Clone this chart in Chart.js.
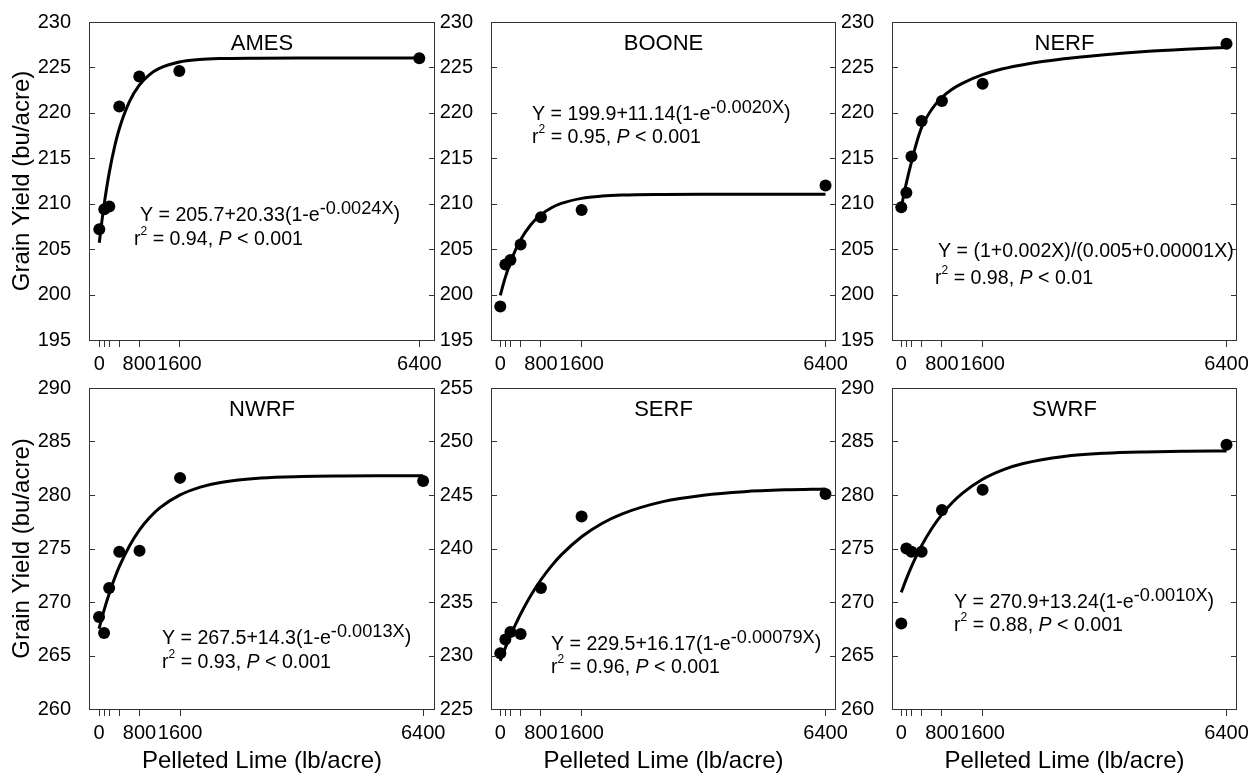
<!DOCTYPE html>
<html>
<head>
<meta charset="utf-8">
<script src="https://cdn.jsdelivr.net/npm/chart.js@4.4.1/dist/chart.umd.min.js"></script>
<style>
  body { margin: 0; background: #fff; }
  #wrap { position: relative; width: 1260px; height: 776px; overflow: hidden; background: #fff; }
  #wrap canvas { position: absolute; }
</style>
</head>
<body>
<div id="wrap"></div>
<script>
// Pelleted lime rates (lb/acre)
const doses = [0, 100, 200, 400, 800, 1600, 6400];

// Measured grain yield (bu/acre) per site
const amesYield = [207.2, 209.4, 209.7, 220.7, 224.0, 224.6, 226.0];
const booneYield = [198.7, 203.3, 203.8, 205.5, 208.5, 209.3, 212.0];
const nerfYield = [209.6, 211.2, 215.2, 219.1, 221.3, 223.2, 227.6];
const nwrfYield = [268.6, 267.1, 271.3, 274.7, 274.8, 281.6, 281.3];
const serfYield = [230.2, 231.5, 232.2, 232.0, 236.3, 243.0, 245.1];
const swrfYield = [268.0, 275.0, 274.7, 274.7, 278.6, 280.5, 284.7];

// Fitted response curves, read at these rates
const fitX = [0, 50, 100, 200, 300, 400, 600, 800, 1000, 1200, 1600, 2000, 2400, 3200, 4000, 4800, 5600, 6400];
const amesFit = [205.70, 208.00, 210.04, 213.45, 216.13, 218.25, 221.21, 223.05, 224.19, 224.89, 225.59, 225.86, 225.97, 226.02, 226.03, 226.03, 226.03, 226.03];
const booneFit = [199.90, 200.96, 201.92, 203.57, 204.93, 206.03, 207.68, 208.79, 209.53, 210.03, 210.59, 210.84, 210.95, 211.02, 211.04, 211.04, 211.04, 211.04];
const nerfFit = [209.60, 211.00, 212.30, 214.60, 216.70, 218.40, 220.40, 221.70, 222.60, 223.25, 224.20, 224.85, 225.30, 225.95, 226.40, 226.75, 227.00, 227.20];
const nwrfFit = [267.50, 268.40, 269.24, 270.77, 272.12, 273.30, 275.24, 276.75, 277.90, 278.80, 280.01, 280.74, 281.17, 281.58, 281.72, 281.77, 281.79, 281.80];
const serfFit = [229.50, 230.13, 230.73, 231.86, 232.90, 233.88, 235.60, 237.08, 238.33, 239.40, 241.10, 242.34, 243.24, 244.38, 244.98, 245.31, 245.48, 245.57];
const swrfFit = [270.90, 271.55, 272.16, 273.30, 274.33, 275.27, 276.87, 278.19, 279.27, 280.15, 281.47, 282.35, 282.94, 283.60, 283.90, 284.03, 284.09, 284.12];

// X axis ticks (only some are labelled)
const xTickValues = [0, 100, 200, 400, 800, 1600, 6400];
const xTickLabels = ['0', '', '', '', '800', '1600', '6400'];

const FONT = "'Liberation Sans', Arial, Helvetica, sans-serif";

// Layout of the six panels (page pixels)
const panels = [
    { name: 'AMES', yields: amesYield, fit: amesFit, yMin: 195, yMax: 230, row: 0, col: 0,
      box: [89, 16, 435, 340], xMin: -206, xMax: 6714,
      eq: 'Y = 205.7+20.33(1-e', exp: '-0.0024X', r2: '0.94', p: '0.001',
      eqPos: [140, 221], statPos: [134, 245] },
    { name: 'BOONE', yields: booneYield, fit: booneFit, yMin: 195, yMax: 230, row: 0, col: 1,
      box: [491, 16, 836, 340], xMin: -183, xMax: 6606,
      eq: 'Y = 199.9+11.14(1-e', exp: '-0.0020X', r2: '0.95', p: '0.001',
      eqPos: [532, 120], statPos: [532, 143] },
    { name: 'NERF', yields: nerfYield, fit: nerfFit, yMin: 195, yMax: 230, row: 0, col: 2,
      box: [892, 16, 1237, 340], xMin: -183, xMax: 6606,
      eq: 'Y = (1+0.002X)/(0.005+0.00001X)', exp: null, r2: '0.98', p: '0.01',
      eqPos: [938, 257], statPos: [935, 284] },
    { name: 'NWRF', yields: nwrfYield, fit: nwrfFit, yMin: 260, yMax: 290, row: 1, col: 0,
      box: [89, 386, 435, 709], xMin: -198, xMax: 6634,
      eq: 'Y = 267.5+14.3(1-e', exp: '-0.0013X', r2: '0.93', p: '0.001',
      eqPos: [162, 644], statPos: [162, 668] },
    { name: 'SERF', yields: serfYield, fit: serfFit, yMin: 225, yMax: 255, row: 1, col: 1,
      box: [491, 386, 836, 709], xMin: -183, xMax: 6606,
      eq: 'Y = 229.5+16.17(1-e', exp: '-0.00079X', r2: '0.96', p: '0.001',
      eqPos: [551, 650], statPos: [551, 673] },
    { name: 'SWRF', yields: swrfYield, fit: swrfFit, yMin: 260, yMax: 290, row: 1, col: 2,
      box: [892, 386, 1237, 709], xMin: -183, xMax: 6606,
      eq: 'Y = 270.9+13.24(1-e', exp: '-0.0010X', r2: '0.88', p: '0.001',
      eqPos: [954, 608], statPos: [954, 631] }
];

const yAxisWidth = [89, 51, 50];
const padTop = [16, 20];
const xAxisHeight = [35, 67];
const padRight = 30;
const EQ_SIZE = 19.6;

// draw a line of text made of runs with different size / offset
function drawRuns(ctx, x, y, runs) {
    ctx.textAlign = 'left';
    ctx.textBaseline = 'alphabetic';
    ctx.fillStyle = '#000';
    runs.forEach(r => {
        ctx.font = (r.italic ? 'italic ' : '') + r.size + 'px ' + FONT;
        ctx.fillText(r.text, x, y + (r.dy || 0));
        x += ctx.measureText(r.text).width;
    });
}

const panelDecor = {
    id: 'panelDecor',
    afterDraw(chart, args, opts) {
        const p = opts.panel;
        const ctx = chart.ctx;
        const a = chart.chartArea;
        const ys = chart.scales.y;
        const ox = opts.offsetX, oy = opts.offsetY;

        ctx.save();
        // frame
        ctx.strokeStyle = '#333';
        ctx.lineWidth = 1;
        ctx.strokeRect(a.left + 0.5, a.top + 0.5, a.right - a.left - 1, a.bottom - a.top);

        // inward y ticks on both sides
        ctx.beginPath();
        ys.ticks.forEach(t => {
            const y = Math.round(ys.getPixelForValue(t.value)) + 0.5;
            ctx.moveTo(a.left, y);
            ctx.lineTo(a.left + 6, y);
            ctx.moveTo(a.right, y);
            ctx.lineTo(a.right - 6, y);
        });
        ctx.stroke();

        // site name
        ctx.fillStyle = '#000';
        ctx.font = '22px ' + FONT;
        ctx.textAlign = 'center';
        ctx.textBaseline = 'alphabetic';
        ctx.fillText(p.name, (a.left + a.right) / 2, a.top + 28);

        // equation
        const eqRuns = [{ text: p.eq, size: EQ_SIZE }];
        if (p.exp) {
            eqRuns.push({ text: p.exp, size: 18.2, dy: -7 });
            eqRuns.push({ text: ')', size: EQ_SIZE, dy: -1.5 });
        }
        drawRuns(ctx, p.eqPos[0] - ox, p.eqPos[1] - oy, eqRuns);

        drawRuns(ctx, p.statPos[0] - ox, p.statPos[1] - oy, [
            { text: 'r', size: EQ_SIZE },
            { text: '2', size: 12, dy: -10 },
            { text: ' = ' + p.r2 + ', ', size: EQ_SIZE },
            { text: 'P', size: EQ_SIZE, italic: true },
            { text: ' < ' + p.p, size: EQ_SIZE }
        ]);
        ctx.restore();
    }
};

const wrap = document.getElementById('wrap');

panels.forEach(p => {
    const yw = yAxisWidth[p.col];
    const pt = padTop[p.row];
    const xh = xAxisHeight[p.row];
    const left = p.box[0] - yw;
    const top = p.box[1] - pt;
    const width = (p.box[2] - p.box[0]) + yw + padRight;
    const height = (p.box[3] - p.box[1]) + pt + xh;

    const canvas = document.createElement('canvas');
    canvas.width = width;
    canvas.height = height;
    canvas.style.left = left + 'px';
    canvas.style.top = top + 'px';
    canvas.style.width = width + 'px';
    canvas.style.height = height + 'px';
    wrap.appendChild(canvas);

    new Chart(canvas, {
        type: 'scatter',
        data: {
            datasets: [
                {
                    type: 'scatter',
                    data: doses.map((x, i) => ({ x: x, y: p.yields[i] })),
                    pointRadius: 6,
                    pointHoverRadius: 6,
                    pointBackgroundColor: '#000',
                    pointBorderWidth: 0,
                    borderColor: '#000'
                },
                {
                    type: 'line',
                    data: fitX.map((x, i) => ({ x: x, y: p.fit[i] })),
                    borderColor: '#000',
                    borderWidth: 3,
                    pointRadius: 0,
                    fill: false,
                    cubicInterpolationMode: 'monotone'
                }
            ]
        },
        options: {
            responsive: false,
            animation: false,
            layout: { padding: { top: pt, right: padRight, left: 0, bottom: 0 } },
            plugins: {
                legend: { display: false },
                tooltip: { enabled: false },
                panelDecor: { panel: p, offsetX: left, offsetY: top }
            },
            scales: {
                x: {
                    type: 'linear',
                    min: p.xMin,
                    max: p.xMax,
                    afterBuildTicks: s => { s.ticks = xTickValues.map(v => ({ value: v })); },
                    afterFit: s => { s.height = xh; },
                    grid: { drawOnChartArea: false, drawTicks: true, tickLength: 7, color: '#333', lineWidth: 1 },
                    border: { display: false },
                    ticks: {
                        autoSkip: false,
                        maxRotation: 0,
                        padding: 5,
                        color: '#000',
                        font: { family: FONT, size: 20 },
                        callback: (v, i) => xTickLabels[i]
                    },
                    title: {
                        display: p.row === 1,
                        text: 'Pelleted Lime (lb/acre)',
                        color: '#000',
                        font: { family: FONT, size: 24 },
                        padding: { top: 0, bottom: 0 }
                    }
                },
                y: {
                    min: p.yMin,
                    max: p.yMax,
                    afterFit: s => { s.width = yw; },
                    grid: { display: false },
                    border: { display: false },
                    ticks: {
                        stepSize: 5,
                        padding: 10,
                        color: '#000',
                        font: { family: FONT, size: 20 }
                    },
                    title: {
                        display: p.col === 0,
                        text: 'Grain Yield (bu/acre)',
                        color: '#000',
                        font: { family: FONT, size: 24 },
                        padding: { top: 8, bottom: 0 }
                    }
                }
            }
        },
        plugins: [panelDecor]
    });
});
</script>
</body>
</html>
